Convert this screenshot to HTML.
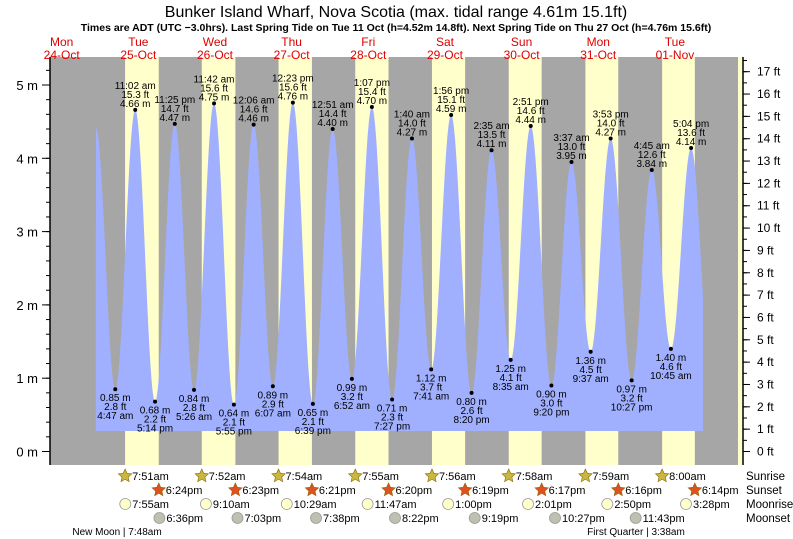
<!DOCTYPE html>
<html><head><meta charset="utf-8"><style>
body{margin:0;background:#fff;}
svg{display:block;font-family:"Liberation Sans",sans-serif;}
</style></head><body>
<svg id="chart" width="793" height="539" viewBox="0 0 793 539" xmlns="http://www.w3.org/2000/svg">
<text x="396" y="17" text-anchor="middle" font-size="16" fill="#000">Bunker Island Wharf, Nova Scotia (max. tidal range 4.61m 15.1ft)</text>
<text x="396" y="31" text-anchor="middle" font-size="10.5" font-weight="bold" fill="#000">Times are ADT (UTC −3.0hrs). Last Spring Tide on Tue 11 Oct (h=4.52m 14.8ft). Next Spring Tide on Thu 27 Oct (h=4.76m 15.6ft)</text>
<g id="g"></g>
</svg>
<script>
const dayNames = ["Mon","Tue","Wed","Thu","Fri","Sat","Sun","Mon","Tue"];
const dayDates = ["24-Oct","25-Oct","26-Oct","27-Oct","28-Oct","29-Oct","30-Oct","31-Oct","01-Nov"];
const sunrise = ["7:51am","7:52am","7:54am","7:55am","7:56am","7:58am","7:59am","8:00am"];
const sunset = ["6:24pm","6:23pm","6:21pm","6:20pm","6:19pm","6:17pm","6:16pm","6:14pm"];
const moonrise = ["7:55am","9:10am","10:29am","11:47am","1:00pm","2:01pm","2:50pm","3:28pm"];
const moonset = ["6:36pm","7:03pm","7:38pm","8:22pm","9:19pm","10:27pm","11:43pm"];
const exDay = [-1,0,0,0,0,1,1,1,2,2,2,2,3,3,3,3,4,4,4,4,5,5,5,5,6,6,6,6,7,7,7,7];
const exTime = ["10:44 pm","4:47 am","11:02 am","5:14 pm","11:25 pm","5:26 am","11:42 am","5:55 pm","12:06 am","6:07 am","12:23 pm","6:39 pm","12:51 am","6:52 am","1:07 pm","7:27 pm","1:40 am","7:41 am","1:56 pm","8:20 pm","2:35 am","8:35 am","2:51 pm","9:20 pm","3:37 am","9:37 am","3:53 pm","10:27 pm","4:45 am","10:45 am","5:04 pm","11:20 pm"];
const exHeight = [4.41,0.85,4.66,0.68,4.47,0.84,4.75,0.64,4.46,0.89,4.76,0.65,4.40,0.99,4.70,0.71,4.27,1.12,4.59,0.80,4.11,1.25,4.44,0.90,3.95,1.36,4.27,0.97,3.84,1.40,4.14,1.00];
const exLabeled = [0,1,1,1,1,1,1,1,1,1,1,1,1,1,1,1,1,1,1,1,1,1,1,1,1,1,1,1,1,1,1,0];
const mTicks = [0,1,2,3,4,5];
const ftTicks = [0,1,2,3,4,5,6,7,8,9,10,11,12,13,14,15,16,17];

const NS="http://www.w3.org/2000/svg", g=document.getElementById('g');
const PL=50, PR=738, PT=57, PB=465, X0=100, PXH=3.194, Y0=451.5, PXM=73.3;
const X=h=>X0+h*PXH, Y=m=>Y0-m*PXM;
function pt(s){const m=s.match(/(\d+):(\d+)\s*(am|pm)/);let h=+m[1]%12;if(m[3]=="pm")h+=12;return h+ +m[2]/60;}
function el(t,a,txt){const e=document.createElementNS(NS,t);for(const k in a)e.setAttribute(k,a[k]);if(txt!=null)e.textContent=txt;g.appendChild(e);return e;}

let e=el('rect',{x:PL,y:PT,width:PR-PL,height:PB-PT,fill:'#a6a6a6'});


el('rect',{x:PR,y:PT,width:5,height:PB-PT,fill:'#ffffcc'});
for(let d=0;d<sunrise.length;d++){
  const a=X(d*24+pt(sunrise[d])), b=X(d*24+pt(sunset[d]));
  e=el('rect',{x:a,y:PT,width:b-a,height:PB-PT,fill:'#ffffcc'});
  
  
}
const H=exDay.map((d,i)=>d*24+pt(exTime[i]));
function tideAt(h){for(let i=0;i<H.length-1;i++){if(h>=H[i]&&h<=H[i+1]){const f=(h-H[i])/(H[i+1]-H[i]);return exHeight[i]+(exHeight[i+1]-exHeight[i])*(1-Math.cos(Math.PI*f))/2;}}return 0.28;}
const hs=(88-X0)/PXH, he=(703-X0)/PXH, base=Y(0.28);
let d=`M${X(hs)},${base}`;
for(let h=hs;h<=he;h+=0.1)d+=` L${X(h).toFixed(2)},${Y(Math.max(0.28,tideAt(h))).toFixed(2)}`;
d+=` L${X(he)},${Y(tideAt(he))} L${X(he)},${base} Z`;
e=el('path',{d:d,fill:'#a0b0ff'});


for(let i=0;i<H.length;i++){
  if(!exLabeled[i])continue;
  const x=X(H[i]),y=Y(exHeight[i]),hi=exHeight[i]>2;
  e=el('circle',{cx:x,cy:y,r:2,fill:'#000'});
  
  
  const ft=(exHeight[i]*3.2808).toFixed(1)+' ft', m=exHeight[i].toFixed(2)+' m';
  const lines=hi?[exTime[i],ft,m]:[m,ft,exTime[i]];
  const ys=hi?[y-21,y-12,y-3]:[y+12,y+21,y+30];
  for(let k=0;k<3;k++){
    e=el('text',{x:x,y:ys[k],'text-anchor':'middle','font-size':'10',fill:'#000'},lines[k]);
    
    
  }
}
el('line',{x1:PL,y1:PT,x2:PL,y2:PB,stroke:'#000','stroke-width':1.5});
el('line',{x1:PR+5,y1:PT,x2:PR+5,y2:PB,stroke:'#000','stroke-width':1.5});
for(let v=0;v<=5.4;v+=0.2){el('line',{x1:PL-4,y1:Y(v),x2:PL,y2:Y(v),stroke:'#000'});}
for(const v of mTicks){
  el('line',{x1:PL-8,y1:Y(v),x2:PL,y2:Y(v),stroke:'#000'});
  e=el('text',{x:38,y:Y(v)+5,'text-anchor':'end','font-size':'13',fill:'#000'},v+' m');
  
  
}
for(let v=0;v<=17.5;v+=0.5){const y=Y(v*0.3048);el('line',{x1:PR+5,y1:y,x2:PR+9,y2:y,stroke:'#000'});}
for(const v of ftTicks){
  const y=Y(v*0.3048);
  el('line',{x1:PR+5,y1:y,x2:PR+12,y2:y,stroke:'#000'});
  e=el('text',{x:757,y:y+4,'font-size':'12',fill:'#000'},v+' ft');
  
  
}
for(let i=0;i<dayNames.length;i++){
  const x=X((i-1)*24+12);
  e=el('text',{x:x,y:46,'text-anchor':'middle','font-size':'12',fill:'#e00000'},dayNames[i]);
  
  
  e=el('text',{x:x,y:59,'text-anchor':'middle','font-size':'12',fill:'#e00000'},dayDates[i]);
  
  
}
function star(cx,cy,fill){let p='';for(let k=0;k<10;k++){const r=k%2?3.3:7,a=-Math.PI/2+k*Math.PI/5;p+=(k?'L':'M')+(cx+r*Math.cos(a)).toFixed(1)+','+(cy+r*Math.sin(a)).toFixed(1);}return el('path',{d:p+'Z',fill:fill,stroke:'#886600','stroke-width':0.6});}
function row(arr,y,kind){
  for(let i=0;i<arr.length;i++){
    const x=X(i*24+pt(arr[i]));
    if(kind=='sunrise')e=star(x,y,'#c8b840');
    else if(kind=='sunset')e=star(x,y,'#e05020');
    else e=el('circle',{cx:x,cy:y,r:5.5,fill:kind=='moonrise'?'#ffffcc':'#c0c0b0',stroke:'#999','stroke-width':0.8});
    
    
    e=el('text',{x:x+7,y:y+4,'font-size':'11',fill:'#000'},arr[i]);
    
    
  }
  e=el('text',{x:746,y:y+4,'font-size':'11.5',fill:'#000'},kind[0].toUpperCase()+kind.slice(1));
  
  
}
row(sunrise,476,'sunrise');row(sunset,490,'sunset');row(moonrise,504,'moonrise');row(moonset,518,'moonset');
e=el('text',{x:117,y:535,'text-anchor':'middle','font-size':'10',fill:'#000'},'New Moon | 7:48am');


e=el('text',{x:636,y:535,'text-anchor':'middle','font-size':'10',fill:'#000'},'First Quarter | 3:38am');


</script>
</body></html>
